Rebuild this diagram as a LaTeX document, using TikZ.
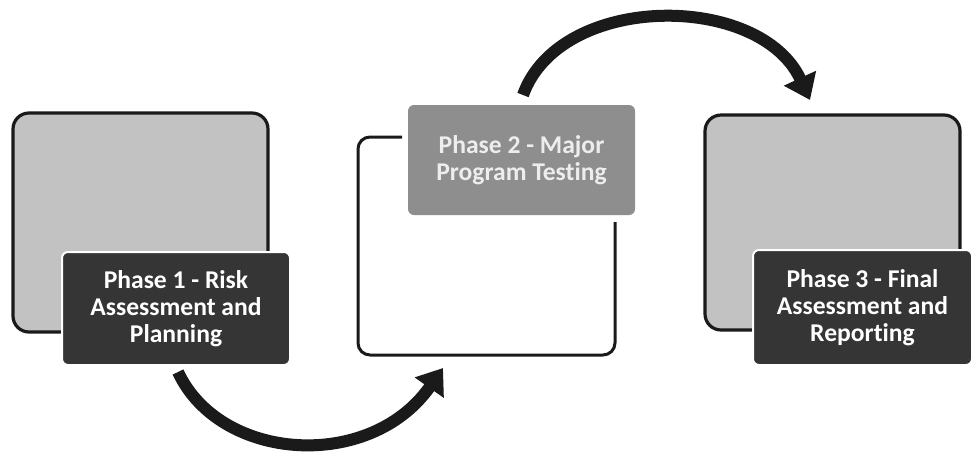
\documentclass[tikz,border=0pt]{standalone}
\usepackage{fontspec}
\setmainfont[Ligatures=NoCommon]{Carlito}
\usepackage{xcolor}
\usepackage{tikz}
\usetikzlibrary{arrows.meta,positioning}
\definecolor{phLight}{HTML}{C2C2C2}
\definecolor{phMid}{HTML}{8E8E8E}
\definecolor{phDark}{HTML}{353535}
\definecolor{phLine}{HTML}{1A1A1A}

\begin{document}
\begin{tikzpicture}[x=0.5pt, y=-0.5pt, >=Triangle,
  phaseBack/.style={draw=phLine, line width=1.6pt, fill=phLight, rounded corners=8pt,
    minimum width=127.5pt, minimum height=109.5pt, inner sep=0pt},
  phaseLabel/.style={draw=white, line width=1pt, fill=phDark, text=white, rounded corners=3pt,
    align=center, inner sep=0pt, font=\fontsize{12.8}{13.6}\selectfont\bfseries},
  flowArrow/.style={line width=6pt, phLine, -{Triangle[length=12pt,width=17pt]}}]
\useasboundingbox (0,0) rectangle (972,451);
% ---------- phase 1 ----------
\node[phaseBack] (back1) at (140.5,222.5) {};
\node[phaseLabel, minimum width=114pt, minimum height=56.5pt] (lab1) at (176,308.5)
  {Phase 1 - Risk\\Assessment and\\Planning};
% ---------- phase 2 ----------
\draw[phLine, line width=1.5pt, rounded corners=6pt]
  (402,137) -- (358,137) -- (358,355) -- (615,355) -- (615,222);
\node[phaseLabel, fill=phMid, draw=none, text=white!93!black, minimum width=113.5pt, minimum height=55pt]
  (lab2) at (521.5,160) {Phase 2 - Major\\Program Testing};
% ---------- phase 3 ----------
\node[phaseBack, minimum height=107.5pt] (back3) at (832.5,222.5) {};
\node[phaseLabel, minimum width=109.5pt, minimum height=57.5pt] (lab3) at (862.5,307.5)
  {Phase 3 - Final\\Assessment and\\Reporting};
% ---------- arrows ----------
\coordinate (a1s) at (178,372);
\coordinate (a1e) at (443,368);
\coordinate (a2s) at (523,95);
\coordinate (a2e) at (810,100);
\draw[flowArrow] (a1s) .. controls (220,462) and (370,472) .. (a1e);
\draw[flowArrow] (a2s) .. controls (560,-8) and (760,-8) .. (a2e);
\end{tikzpicture}
\end{document}
